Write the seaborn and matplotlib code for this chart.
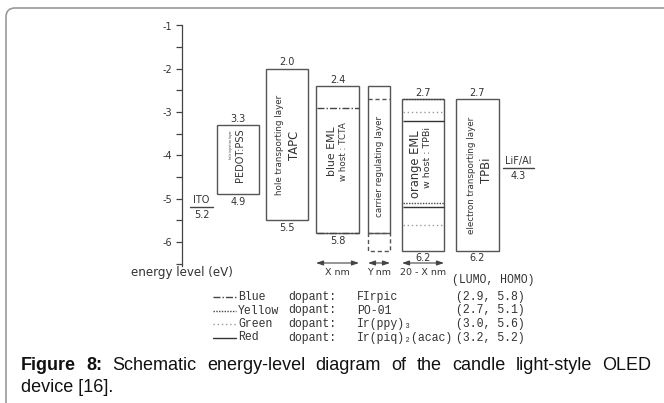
import numpy as np
import pandas as pd
import matplotlib
matplotlib.use("Agg")
import matplotlib.pyplot as plt
import seaborn as sns
from matplotlib.lines import Line2D
from matplotlib.patches import FancyBboxPatch

# ---------------- data ----------------
layer_names = ["PEDOT:PSS", "TAPC", "blue EML", "carrier regulating layer", "orange EML", "TPBi"]
layer_lumo = [3.3, 2.0, 2.4, 2.4, 2.7, 2.7]
layer_homo = [4.9, 5.5, 5.8, 5.8, 6.2, 6.2]
lumo_labels = ["3.3", "2.0", "2.4", "", "2.7", "2.7"]
homo_labels = ["4.9", "5.5", "5.8", "", "6.2", "6.2"]
crl_extra_lumo = 2.7
crl_extra_homo = 6.2
electrode_names = ["ITO", "LiF/Al"]
electrode_levels = [5.2, 4.3]
electrode_labels = ["5.2", "4.3"]
dopant_colors = ["Blue", "Yellow", "Green", "Red"]
dopant_names = ["FIrpic", "PO-01", "Ir(ppy)\u2083", "Ir(piq)\u2082(acac)"]
dopant_lumo = [2.9, 2.7, 3.0, 3.2]
dopant_homo = [5.8, 5.1, 5.6, 5.2]
energy_ticks = [-1, -2, -3, -4, -5, -6]
energy_minor = [-1.5, -2.5, -3.5, -4.5, -5.5, -6.5]
thickness_labels = ["X nm", "Y nm", "20 - X nm"]

# ---------------- layout / style ----------------
W, H = 664, 403
box_x0 = [217, 266, 316, 368, 402, 456]
box_x1 = [259, 308, 359, 390, 444, 499]
electrode_x = [(190, 213), (503, 534)]
dopant_host = [2, 4, 4, 4]
dopant_ls = [(0, (5, 1.5, 1, 1.5)), (0, (1, 1)), (0, (1, 2)), "-"]
dopant_lc = ["#444444", "#444444", "#9a9a9a", "#333333"]
EDGE = "#555555"
TXT = "#333333"

sns.set_theme(style="ticks")
plt.rcParams["font.family"] = ["DejaVu Sans"]

fig = plt.figure(figsize=(W / 100, H / 100), dpi=100)
fig.patch.set_facecolor("white")

def ev(py):
    return -1 - (py - 25.5) / 43.3

def fx(px):
    return px / W

def fy(py):
    return 1 - py / H

ax = fig.add_axes([fx(182), fy(285.3), (620 - 182) / W, (285.3 - 14.675) / H])
ax.set_xlim(182, 620)
ax.set_ylim(-7.0, -0.75)
ax.set_facecolor("none")
for s in ["top", "right", "bottom"]:
    ax.spines[s].set_visible(False)
ax.spines["left"].set_bounds(-6.55, -1)
ax.spines["left"].set_color("#444444")
ax.spines["left"].set_linewidth(0.9)
ax.set_xticks([])
ax.set_yticks(energy_ticks)
ax.set_yticklabels([str(t) for t in energy_ticks])
ax.set_yticks(energy_minor, minor=True)
ax.tick_params(axis="y", which="both", left=True, direction="out", length=4.5,
               width=0.9, color="#444444", labelsize=7, labelcolor=TXT, pad=2.5)

# boxes
lumo = np.array(layer_lumo)
homo = np.array(layer_homo)
x0 = np.array(box_x0, float)
x1 = np.array(box_x1, float)
ax.bar((x0 + x1) / 2, -(homo - lumo), bottom=-lumo, width=x1 - x0, fill=False,
       edgecolor=EDGE, linewidth=1.0)
# carrier regulating layer dashed extension
i = 3
ax.bar((x0[i] + x1[i]) / 2, -(crl_extra_homo - homo[i]), bottom=-homo[i], width=x1[i] - x0[i],
       fill=False, edgecolor=EDGE, linewidth=1.0, linestyle=(0, (3, 2)))
ax.hlines(-crl_extra_lumo, x0[i], x1[i], colors=EDGE, linewidth=1.0, linestyles=(0, (3, 2)))

# dopant levels
for k in range(4):
    h = dopant_host[k]
    for lvl in (dopant_lumo[k], dopant_homo[k]):
        ax.hlines(-lvl, x0[h] + 0.5, x1[h] - 0.5, colors=dopant_lc[k], linewidth=1.0,
                  linestyles=dopant_ls[k])

# electrodes
edf = pd.DataFrame({"x": [p for pair in electrode_x for p in pair],
                    "y": [-v for v in electrode_levels for _ in range(2)],
                    "name": [n for n in electrode_names for _ in range(2)]})
sns.lineplot(data=edf, x="x", y="y", units="name", estimator=None, color="#444444",
             linewidth=1.0, ax=ax, legend=False)
for (a, b), nm, v, lab in zip(electrode_x, electrode_names, electrode_levels, electrode_labels):
    ax.annotate(nm, ((a + b) / 2, -v), xytext=(0, 1.5), textcoords="offset points",
                ha="center", va="bottom", fontsize=7, color=TXT)
    ax.annotate(lab, ((a + b) / 2, -v), xytext=(0, -2), textcoords="offset points",
                ha="center", va="top", fontsize=7, color=TXT)
ax.set_xlabel("")
ax.set_ylabel("")

# value labels
for k in range(len(layer_names)):
    cx = (x0[k] + x1[k]) / 2
    if lumo_labels[k]:
        ax.annotate(lumo_labels[k], (cx, -lumo[k]), xytext=(0, 1), textcoords="offset points",
                    ha="center", va="bottom", fontsize=7, color=TXT)
    if homo_labels[k]:
        ax.annotate(homo_labels[k], (cx, -homo[k]), xytext=(0, -2), textcoords="offset points",
                    ha="center", va="top", fontsize=7, color=TXT)

# layer texts
def vt(x, py, s, size, va="center"):
    ax.text(x, ev(py), s, rotation=90, ha="center", va=va, fontsize=size, color=TXT)

vt(231, 130, "hole injection layer", 2.2, va="top")
vt(240, 128, layer_names[0], 7, va="top")
vt(280, 145, "hole transporting layer", 6.3)
vt(294, 145, layer_names[1], 8.3)
vt(332, 151, layer_names[2], 7.8)
vt(344, 152, "w host : TCTA", 6.3)
vt(379, 166, layer_names[3], 6.3)
vt(415, 164, layer_names[4], 8.3)
vt(428, 157, "w host : TPBi", 6.8)
vt(472, 175, "electron transporting layer", 6.3)
vt(487, 170, layer_names[5], 8.3)

# thickness arrows
for (a, b), lab in zip([(316, 359), (368, 390), (402, 444)], thickness_labels):
    ax.annotate("", xy=(a, ev(263)), xytext=(b, ev(263)),
                arrowprops=dict(arrowstyle="<|-|>,head_length=0.35,head_width=0.12",
                                color="#444444", lw=0.8, shrinkA=0, shrinkB=0))
    ax.text((a + b) / 2, ev(272), lab, ha="center", va="center", fontsize=6.8, color=TXT)

ax.text(182, ev(272), "energy level (eV)", ha="center", va="center", fontsize=8.6, color=TXT)

# legend block
mono = ["Liberation Mono", "DejaVu Sans Mono"]
fig.text(fx(452), fy(280), "(LUMO, HOMO)", ha="left", va="center", fontsize=8.3,
         color=TXT, family=mono)
rows = [297, 310.5, 324, 337.5]
for k in range(4):
    y = fy(rows[k])
    fig.add_artist(Line2D([fx(213), fx(236)], [y, y], color=dopant_lc[k],
                          linestyle=dopant_ls[k], linewidth=1.0, transform=fig.transFigure))
    fig.text(fx(238), y, dopant_colors[k], ha="left", va="center", fontsize=8.3, color=TXT, family=mono)
    fig.text(fx(288), y, "dopant:", ha="left", va="center", fontsize=8.3, color=TXT, family=mono)
    fig.text(fx(357), y, dopant_names[k], ha="left", va="center", fontsize=8.3, color=TXT, family=mono)
    fig.text(fx(456), y, f"({dopant_lumo[k]:.1f}, {dopant_homo[k]:.1f})", ha="left", va="center",
             fontsize=8.3, color=TXT, family=mono)

# border
fig.add_artist(FancyBboxPatch((0.06, -1.0), 10.0, 1.0 + (H - 8) / 100,
                              boxstyle="round,pad=0,rounding_size=0.09",
                              transform=fig.dpi_scale_trans, fill=False,
                              edgecolor="#9a9a9a", linewidth=1.2))

# caption (justified first line)
cap_font = ["Liberation Sans", "DejaVu Sans"]
CAP = 13
line1 = [("Figure", "bold"), ("8:", "bold")] + [(w, "normal") for w in
         "Schematic energy-level diagram of the candle light-style OLED".split(" ")]
fig.canvas.draw()
r = fig.canvas.get_renderer()
tx = []
for w, wt in line1:
    t = fig.text(0, fy(366), w, ha="left", va="center", fontsize=CAP, weight=wt,
                 family=cap_font, color="#111111")
    tx.append(t)
widths = [t.get_window_extent(r).width for t in tx]
xs, xe = 21, 651
gap = (xe - xs - sum(widths)) / (len(tx) - 1)
cur = xs
for t, wd in zip(tx, widths):
    t.set_x(fx(cur))
    cur += wd + gap
fig.text(fx(21), fy(387), "device [16].", ha="left", va="center", fontsize=CAP,
         family=cap_font, color="#111111")

fig.savefig("out.png", dpi=100, facecolor="white")
